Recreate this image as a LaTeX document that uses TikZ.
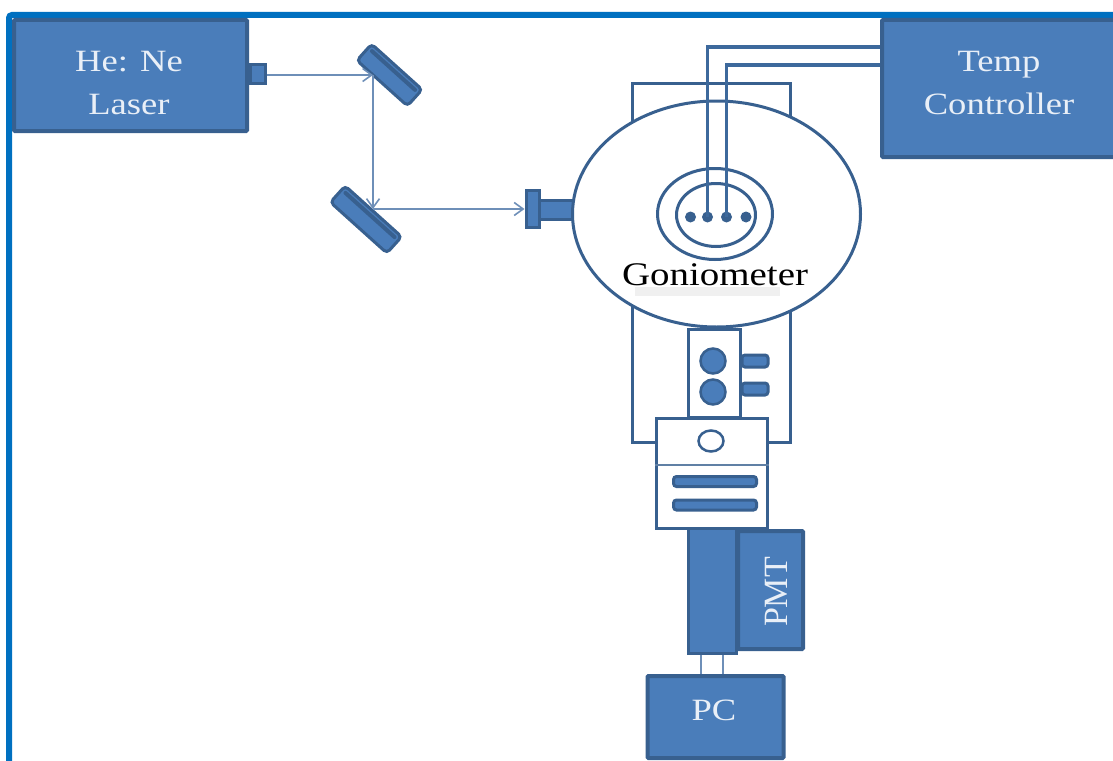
\documentclass[tikz,border=0pt]{standalone}
\usepackage{fontspec}
\setmainfont[FakeStretch=1.18]{Liberation Serif}
\newfontfamily\plainfont{Liberation Serif}
\usetikzlibrary{positioning,arrows.meta,shapes.geometric}
\definecolor{framecol}{HTML}{0070C0}
\definecolor{boxfill}{HTML}{4A7DBA}
\definecolor{boxedge}{HTML}{38608F}
\definecolor{beamcol}{HTML}{6E8FB8}

\begin{document}
\begin{tikzpicture}[
        x=1pt, y=-1pt,
        every node/.style={align=center},
        bluebox/.style={rectangle, draw=boxedge, line width=4pt, fill=boxfill, inner sep=0pt, rounded corners=1pt},
        lightbox/.style={rectangle, draw=boxedge, line width=3pt, fill=white, inner sep=0pt},
        ring/.style={ellipse, draw=boxedge, line width=3pt, inner sep=0pt},
        solidpart/.style={rectangle, draw=boxedge, line width=3pt, fill=boxfill, inner sep=0pt},
        tabpart/.style={solidpart, rounded corners=3pt},
        mirror/.style={solidpart, rounded corners=4pt, rotate=-42, minimum height=22pt},
        mirrorstrip/.style={rectangle, fill=boxedge, rounded corners=2pt, rotate=-42, inner sep=0pt, minimum height=4pt},
        dot/.style={circle, fill=boxedge, inner sep=0pt, minimum size=11pt},
        boxtext/.style={text=white!88!boxfill, font=\fontsize{31}{43}\selectfont},
        beam/.style={draw=beamcol, line width=1.6pt, -{Straight Barb[length=9pt,width=13pt]}},
        wire/.style={draw=boxedge!70!boxfill, line width=3.5pt},
        lead/.style={draw=beamcol, line width=2pt}
    ]
    \useasboundingbox (0,0) rectangle (1113,760);

    % Page frame
    \draw[framecol, line width=6pt, rounded corners=3pt] (9,770) -- (9,15) -- (1125,15);

    % Sources
    \node[bluebox, minimum width=233pt, minimum height=111pt] (laser) at (130.5,75.5) {};
    \node[boxtext] (lasertext) at (129,83) {He: Ne\\Laser};
    \node[solidpart, minimum width=15pt, minimum height=18pt, right=0pt of laser, yshift=1.5pt] (nozzle) {};
    \node[bluebox, minimum width=240pt, minimum height=137pt] (tempbox) at (1002,88.5) {};
    \node[boxtext] (temptext) at (999,83) {Temp\\Controller};

    % Mirrors
    \node[mirror, minimum width=68pt] (mirrora) at (389.5,75) {};
    \node[mirrorstrip, minimum width=62pt] (stripa) at (393.5,70.5) {};
    \node[mirror, minimum width=76pt] (mirrorb) at (366,219.5) {};
    \node[mirrorstrip, minimum width=70pt] (stripb) at (370,215) {};

    % Goniometer
    \node[lightbox, minimum width=158pt, minimum height=359pt] (housing) at (711,262.5) {};
    \node[solidpart, minimum width=36pt, minimum height=19pt] (stem) at (557,210) {};
    \node[solidpart, minimum width=13pt, minimum height=37pt] (flange) at (532.5,208.5) {};
    \node[ring, fill=white, minimum width=288pt, minimum height=226pt] (gonio) at (716.5,214) {};
    \node[ring, minimum width=115pt, minimum height=91pt] (outerring) at (715,214) {};
    \node[ring, minimum width=79pt, minimum height=63pt] (innerring) at (716,215) {};
    \node[dot] (dota) at (690.5,217) {};
    \node[dot] (dotb) at (707.5,217) {};
    \node[dot] (dotc) at (726.5,217) {};
    \node[dot] (dotd) at (746,217) {};
    \node[rectangle, fill=black!6, inner sep=0pt, minimum width=145pt, minimum height=9pt] (shade) at (707,291) {};
    \node[font=\fontsize{33}{36}\selectfont, text=black] (goniotext) at (715,275) {Goniometer};

    % Neck and slit holder
    \node[tabpart, minimum width=26pt, minimum height=12pt] (taba) at (755,361) {};
    \node[tabpart, minimum width=26pt, minimum height=12pt] (tabb) at (755,389) {};
    \node[lightbox, minimum width=52pt, minimum height=88pt] (neck) at (714,373) {};
    \node[circle, draw=boxedge, line width=2.5pt, fill=boxfill, inner sep=0pt, minimum size=25pt] (knoba) at (713,361) {};
    \node[circle, draw=boxedge, line width=2.5pt, fill=boxfill, inner sep=0pt, minimum size=25pt] (knobb) at (713,392) {};
    \node[lightbox, minimum width=111pt, minimum height=110pt] (slitbox) at (711.5,473) {};
    \node[ring, line width=2.5pt, fill=white, minimum width=25pt, minimum height=21pt] (aperture) at (711,441) {};
    \node[tabpart, minimum width=83pt, minimum height=10pt] (bara) at (715,481.5) {};
    \node[tabpart, minimum width=83pt, minimum height=10pt] (barb) at (715,505) {};
    \draw[boxedge!80, line width=1.2pt] (slitbox.west |- 0,465) -- (slitbox.east |- 0,465);

    % Detector
    \node[solidpart, minimum width=48pt, minimum height=125pt] (detector) at (712.5,591) {};
    \node[bluebox, minimum width=65pt, minimum height=118pt, right=0pt of detector, xshift=-2pt, yshift=1pt] (pmt) {};
    \node[boxtext, font=\plainfont\fontsize{34}{36}\selectfont, rotate=90] (pmttext) at (776,592) {PMT};
    \node[bluebox, minimum width=136pt, minimum height=82pt] (pcbox) at (715.5,717) {};
    \node[boxtext] (pctext) at (714,710) {PC};

    % Beam path
    \coordinate (hita) at (373,75);
    \coordinate (hitb) at (373,209);
    \draw[beam] (nozzle.east |- hita) -- (hita);
    \draw[beam] (hita) -- (hitb);
    \draw[beam] (hitb) -- (flange.west |- hitb);

    % Cables
    \draw[wire] (tempbox.west |- 0,47) -| (dotb.center);
    \draw[wire] (tempbox.west |- 0,65) -| (dotc.center);
    \draw[lead] (detector.south -| 701,0) -- (pcbox.north -| 701,0);
    \draw[lead] (detector.south -| 723,0) -- (pcbox.north -| 723,0);

\end{tikzpicture}
\end{document}
